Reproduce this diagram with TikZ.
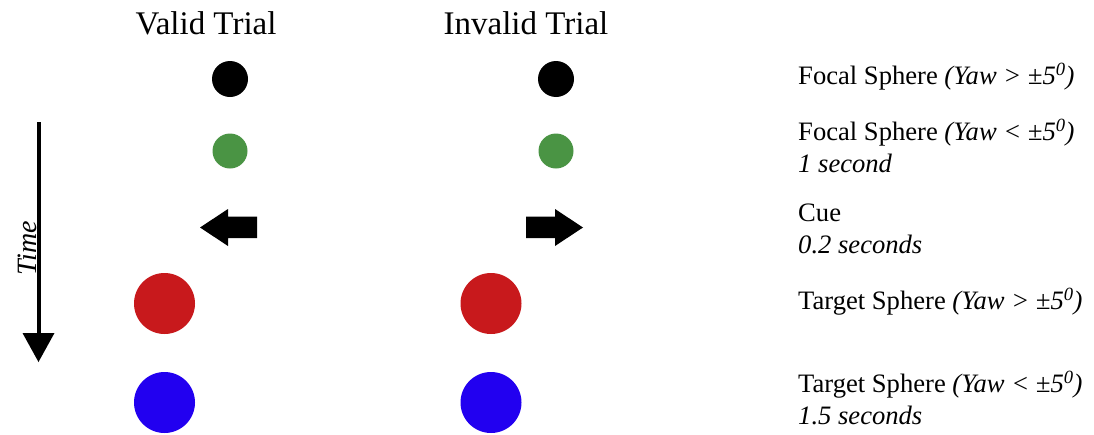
\documentclass[tikz,border=0pt]{standalone}
\usepackage{fontspec}
\setmainfont{Liberation Serif}
\begin{document}
\begin{tikzpicture}[x=1pt,y=-1pt,
  sph/.style={circle,inner sep=0pt,minimum size=#1},
  lbl/.style={anchor=west,inner sep=0pt,font=\fontsize{26.6}{30}\selectfont},
  ttl/.style={inner sep=0pt,font=\fontsize{33}{38}\selectfont},
  cuearrow/.style={fill=black}]
\definecolor{sgreen}{HTML}{4A9444}
\definecolor{sred}{HTML}{C8191C}
\definecolor{sblue}{HTML}{2200F0}
\useasboundingbox (0,0) rectangle (1094,434);
\newcommand{\yawgt}{\textit{(Yaw > ±5\textsuperscript{0})}}
\newcommand{\yawlt}{\textit{(Yaw < ±5\textsuperscript{0})}}
% titles
\node[ttl] (tv) at (206,23) {Valid Trial};
\node[ttl] (ti) at (526,23) {Invalid Trial};
% spheres
\node[sph=36pt,fill=black] (b1) at (230,79) {};
\node[sph=36pt,fill=black] (b2) at (556,79) {};
\node[sph=35pt,fill=sgreen] (g1) at (230,151) {};
\node[sph=35pt,fill=sgreen] (g2) at (556,151) {};
\node[sph=61pt,fill=sred] (r1) at (164.5,303.5) {};
\node[sph=61pt,fill=sred] (r2) at (491,303.5) {};
\node[sph=61pt,fill=sblue] (u1) at (164.5,402.5) {};
\node[sph=61pt,fill=sblue] (u2) at (491,402.5) {};
% cue arrows
\fill[cuearrow] (200,227.5) -- (228,209) -- (228,216.5) -- (257,216.5) -- (257,238) -- (228,238) -- (228,246) -- cycle;
\fill[cuearrow] (583,227.5) -- (555,209) -- (555,216.5) -- (526,216.5) -- (526,238) -- (555,238) -- (555,246) -- cycle;
% time arrow
\coordinate (ts) at (38.5,122);
\coordinate (te) at (38.5,334);
\draw[line width=4pt] (ts) -- (te);
\fill (22.5,333) -- (54.5,333) -- (38.5,362) -- cycle;
\node[rotate=90,inner sep=0pt,font=\fontsize{28}{32}\selectfont\itshape] (time) at (27,248) {Time};
% labels
\node[lbl] (l1) at (798,77) {Focal Sphere \yawgt};
\node[lbl] (l2) at (798,133) {Focal Sphere \yawlt};
\node[lbl] (l2b) at (798,163) {\textit{1 second}};
\node[lbl] (l3) at (798,213) {Cue};
\node[lbl] (l3b) at (798,244) {\textit{0.2 seconds}};
\node[lbl] (l4) at (798,302) {Target Sphere \yawgt};
\node[lbl] (l5) at (798,385) {Target Sphere \yawlt};
\node[lbl] (l5b) at (798,415) {\textit{1.5 seconds}};
\end{tikzpicture}
\end{document}
